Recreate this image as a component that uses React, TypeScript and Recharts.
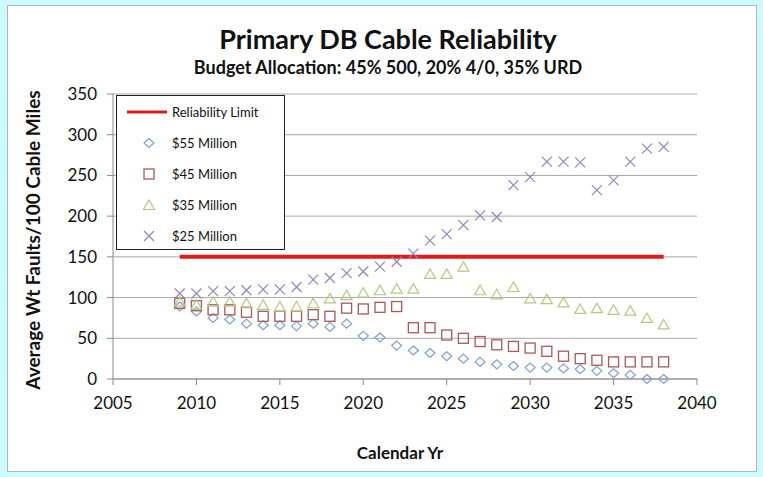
import React from 'react';
import { ScatterChart, Scatter, XAxis, YAxis, CartesianGrid } from 'recharts';

const years = [
  2009, 2010, 2011, 2012, 2013, 2014, 2015, 2016, 2017, 2018,
  2019, 2020, 2021, 2022, 2023, 2024, 2025, 2026, 2027, 2028,
  2029, 2030, 2031, 2032, 2033, 2034, 2035, 2036, 2037, 2038,
];
const million55 = [89, 83, 75, 73, 68, 66, 66, 65, 68, 64, 68, 53, 51, 41, 35, 32, 28, 25, 21, 18, 16, 14, 14, 13, 12, 10, 7, 5, 0, 0];
const million45 = [93, 90, 85, 85, 82, 77, 77, 77, 79, 77, 87, 86, 88, 89, 63, 63, 54, 50, 46, 42, 40, 38, 34, 28, 25, 23, 21, 21, 21, 21];
const million35 = [95, 91, 95, 95, 93, 91, 89, 89, 93, 99, 103, 106, 109, 111, 111, 129, 129, 138, 109, 104, 113, 99, 98, 94, 86, 87, 85, 84, 75, 67];
const million25 = [105, 105, 108, 108, 109, 110, 110, 113, 122, 124, 130, 132, 138, 144, 154, 170, 178, 189, 201, 199, 238, 248, 267, 267, 266, 232, 244, 267, 283, 285];
const limitValue = 150;

const xTicks = [2005, 2010, 2015, 2020, 2025, 2030, 2035, 2040];
const yTicks = [0, 50, 100, 150, 200, 250, 300, 350];

const COLORS = {
  limit: '#e01b1b',
  m55: '#7f9ed0',
  m45: '#a8595a',
  m35: '#b5c97c',
  m25: '#8f86bb',
};

const FONT = 'Lato, "Open Sans", sans-serif';

const toRows = (vals: number[]) => years.map((year, i) => ({ year, value: vals[i] }));
const limitRows = years.map(year => ({ year, value: limitValue }));

const Diamond = ({ cx, cy, color }: any) => (
  <path d={`M${cx},${cy - 4.5} L${cx + 5},${cy} L${cx},${cy + 4.5} L${cx - 5},${cy} Z`} fill="none" stroke={color} strokeWidth={1.2} />
);
const Square = ({ cx, cy, color }: any) => (
  <rect x={cx - 5} y={cy - 5} width={10} height={10} fill="none" stroke={color} strokeWidth={1.3} />
);
const Triangle = ({ cx, cy, color }: any) => (
  <path d={`M${cx},${cy - 5} L${cx + 5.5},${cy + 4.5} L${cx - 5.5},${cy + 4.5} Z`} fill="none" stroke={color} strokeWidth={1.2} />
);
const Cross = ({ cx, cy, color }: any) => (
  <path d={`M${cx - 5},${cy - 5} L${cx + 5},${cy + 5} M${cx + 5},${cy - 5} L${cx - 5},${cy + 5}`} fill="none" stroke={color} strokeWidth={1.2} />
);

const legendItems = [
  { name: 'Reliability Limit', kind: 'line', color: COLORS.limit },
  { name: '$55 Million', kind: 'diamond', color: COLORS.m55 },
  { name: '$45 Million', kind: 'square', color: COLORS.m45 },
  { name: '$35 Million', kind: 'triangle', color: COLORS.m35 },
  { name: '$25 Million', kind: 'cross', color: COLORS.m25 },
];

const LegendBox = () => (
  <div style={{ position: 'absolute', left: 116, top: 95, width: 169, height: 155, boxSizing: 'border-box', border: '1px solid #222', background: '#fff', paddingTop: 0 }}>
    {legendItems.map(item => (
      <div key={item.name} style={{ display: 'flex', alignItems: 'center', height: 31, fontFamily: FONT, fontSize: 13, color: '#111' }}>
        <svg width={55} height={20} style={{ flex: 'none' }}>
          {item.kind === 'line' && <line x1={10} y1={10} x2={50} y2={10} stroke={item.color} strokeWidth={3} />}
          {item.kind === 'diamond' && <Diamond cx={32} cy={10} color={item.color} />}
          {item.kind === 'square' && <Square cx={32} cy={10} color={item.color} />}
          {item.kind === 'triangle' && <Triangle cx={32} cy={10} color={item.color} />}
          {item.kind === 'cross' && <Cross cx={32} cy={10} color={item.color} />}
        </svg>
        <span>{item.name}</span>
      </div>
    ))}
  </div>
);

const YLabel = () => (
  <text x={35} y={240} transform="rotate(-90, 35, 240)" textAnchor="middle" dominantBaseline="middle"
    style={{ fontFamily: FONT, fontSize: 19, fontWeight: 700, fill: '#111' }}>
    Average Wt Faults/100 Cable Miles
  </text>
);

const XLabel = () => (
  <text x={400} y={455} textAnchor="middle" dominantBaseline="middle"
    style={{ fontFamily: FONT, fontSize: 17, fontWeight: 700, fill: '#111' }}>
    Calendar Yr
  </text>
);

export default function App() {
  return (
    <div style={{ position: 'absolute', left: 0, top: 0, width: 763, height: 477, background: '#c9fbff', overflow: 'hidden' }}>
      <div style={{ position: 'absolute', left: 7, top: 5, width: 750, height: 467, background: '#fff', border: '1px solid #b5b5b5', boxSizing: 'border-box' }} />
      <div style={{ position: 'absolute', left: 0, top: 22, width: 776, textAlign: 'center', fontFamily: FONT, fontSize: 27, fontWeight: 700, color: '#111' }}>
        Primary DB Cable Reliability
      </div>
      <div style={{ position: 'absolute', left: 0, top: 56, width: 776, textAlign: 'center', fontFamily: FONT, fontSize: 18, fontWeight: 700, color: '#111' }}>
        Budget Allocation: 45% 500, 20% 4/0, 35% URD
      </div>
      <div style={{ position: 'absolute', left: 0, top: 0 }}>
        <ScatterChart width={763} height={477} margin={{ top: 94, right: 66, bottom: 0, left: 0 }}>
          <CartesianGrid vertical={false} stroke="#a9a9a9" />
          <XAxis
            type="number"
            dataKey="year"
            domain={[2005, 2040]}
            ticks={xTicks}
            interval={0}
            allowDataOverflow
            stroke="#8a8a8a"
            tickSize={6}
            tickMargin={12}
            tick={{ fill: '#111', fontSize: 17, fontFamily: FONT }}
            height={98}
            label={<XLabel />}
          />
          <YAxis
            type="number"
            dataKey="value"
            domain={[0, 350]}
            ticks={yTicks}
            interval={0}
            stroke="#8a8a8a"
            tickSize={6}
            tickMargin={10}
            width={113}
            tick={{ fill: '#111', fontSize: 17, fontFamily: FONT }}
            label={<YLabel />}
          />
          <Scatter name="Reliability Limit" data={limitRows} line={{ stroke: COLORS.limit, strokeWidth: 4 }} lineType="joint"
            shape={() => <g />} isAnimationActive={false} />
          <Scatter name="$55 Million" data={toRows(million55)} shape={(p: any) => <Diamond {...p} color={COLORS.m55} />} isAnimationActive={false} />
          <Scatter name="$45 Million" data={toRows(million45)} shape={(p: any) => <Square {...p} color={COLORS.m45} />} isAnimationActive={false} />
          <Scatter name="$35 Million" data={toRows(million35)} shape={(p: any) => <Triangle {...p} color={COLORS.m35} />} isAnimationActive={false} />
          <Scatter name="$25 Million" data={toRows(million25)} shape={(p: any) => <Cross {...p} color={COLORS.m25} />} isAnimationActive={false} />
        </ScatterChart>
      </div>
      <LegendBox />
    </div>
  );
}
